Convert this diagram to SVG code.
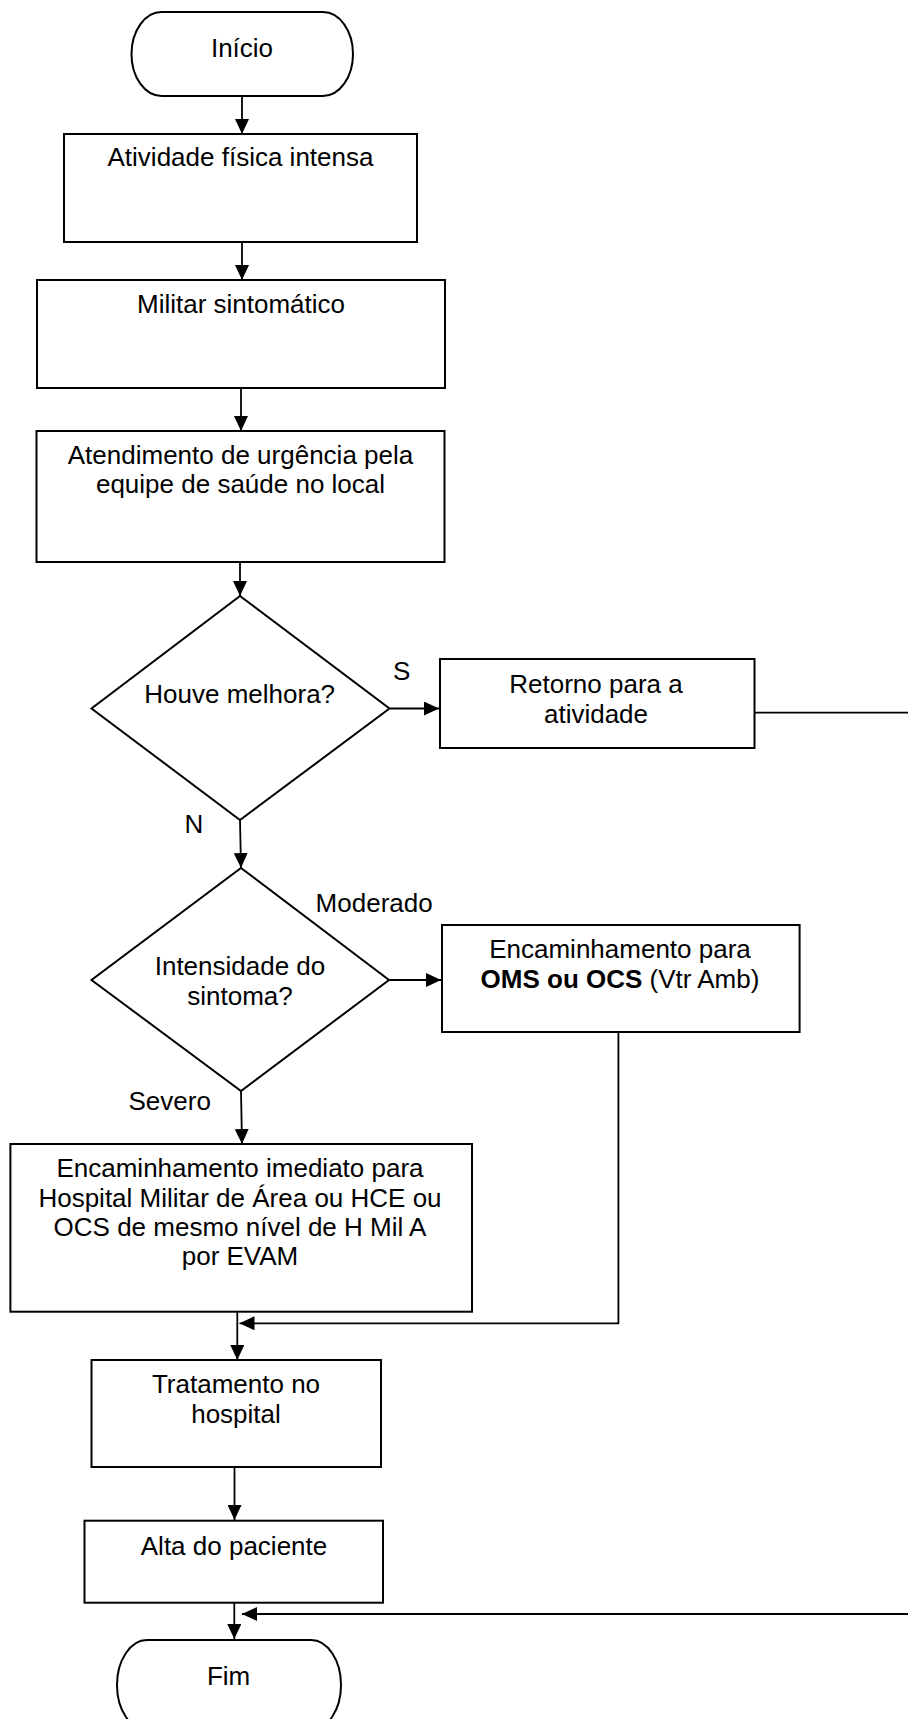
<svg xmlns="http://www.w3.org/2000/svg" width="908" height="1719" viewBox="0 0 908 1719">
<style>
.shape{fill:#fff;stroke:#000;stroke-width:2}
.conn{fill:none;stroke:#000;stroke-width:1.8}
text{font-family:"Liberation Sans",Arial,sans-serif;font-size:26px;fill:#000}
.c{text-anchor:middle}
</style>
<defs>
<marker id="arr" markerUnits="userSpaceOnUse" markerWidth="16" markerHeight="14" refX="15" refY="7" orient="auto">
<path d="M0,0 L15,7 L0,14 z" fill="#000"/>
</marker>
</defs>
<rect width="908" height="1719" fill="#fff"/>
<g id="connectors">
<line class="conn" x1="242" y1="96" x2="242" y2="134" marker-end="url(#arr)"/>
<line class="conn" x1="242" y1="242" x2="242" y2="280" marker-end="url(#arr)"/>
<line class="conn" x1="241" y1="388" x2="241" y2="431" marker-end="url(#arr)"/>
<line class="conn" x1="240" y1="562" x2="240" y2="596" marker-end="url(#arr)"/>
<line class="conn" x1="390" y1="708.5" x2="439" y2="708.5" marker-end="url(#arr)"/>
<path class="conn" d="M754.5,712.7 H912 V1614 H242" marker-end="url(#arr)"/>
<line class="conn" x1="240" y1="820" x2="241" y2="868" marker-end="url(#arr)"/>
<line class="conn" x1="389" y1="980" x2="441" y2="980" marker-end="url(#arr)"/>
<line class="conn" x1="241" y1="1091" x2="242" y2="1144" marker-end="url(#arr)"/>
<path class="conn" d="M618.4,1032 V1323.3 H239.5" marker-end="url(#arr)"/>
<line class="conn" x1="237.3" y1="1312" x2="237.3" y2="1360" marker-end="url(#arr)"/>
<line class="conn" x1="234.5" y1="1463" x2="234.5" y2="1520" marker-end="url(#arr)"/>
<line class="conn" x1="234.3" y1="1603" x2="234.3" y2="1639" marker-end="url(#arr)"/>
</g>
<g id="inicio">
<rect class="shape" x="131.5" y="12" width="221.5" height="84" rx="30" ry="42"/>
<text class="c" x="242" y="57">Início</text>
</g>
<g id="atividade">
<rect class="shape" x="64" y="134" width="353" height="108"/>
<text class="c" x="240.5" y="166">Atividade física intensa</text>
</g>
<g id="militar">
<rect class="shape" x="37" y="280" width="408" height="108"/>
<text class="c" x="241" y="313">Militar sintomático</text>
</g>
<g id="atendimento">
<rect class="shape" x="36.5" y="431" width="408" height="131"/>
<text class="c" x="240.5" y="464">Atendimento de urgência pela</text>
<text class="c" x="240.5" y="493">equipe de saúde no local</text>
</g>
<g id="melhora">
<polygon class="shape" points="240,596 389.5,708.5 240,820 91.5,708.5"/>
<text class="c" x="239.7" y="703">Houve melhora?</text>
</g>
<g id="retorno">
<rect class="shape" x="440" y="659" width="314.5" height="89"/>
<text class="c" x="596" y="693">Retorno para a</text>
<text class="c" x="596" y="723">atividade</text>
</g>
<g id="intensidade">
<polygon class="shape" points="241,868 389,980 241,1091 91.5,980"/>
<text class="c" x="240" y="975">Intensidade do</text>
<text class="c" x="240" y="1005">sintoma?</text>
</g>
<g id="oms">
<rect class="shape" x="442" y="925" width="357.6" height="107"/>
<text class="c" x="620" y="958">Encaminhamento para</text>
<text class="c" x="620" y="988"><tspan font-weight="bold">OMS ou OCS</tspan> (Vtr Amb)</text>
</g>
<g id="hospital-area">
<rect class="shape" x="10.4" y="1144" width="461.6" height="167.7"/>
<text class="c" x="240" y="1177">Encaminhamento imediato para</text>
<text class="c" x="240" y="1206.5">Hospital Militar de Área ou HCE ou</text>
<text class="c" x="240" y="1236">OCS de mesmo nível de H Mil A</text>
<text class="c" x="240" y="1265">por EVAM</text>
</g>
<g id="tratamento">
<rect class="shape" x="91.5" y="1360" width="289.5" height="107"/>
<text class="c" x="236" y="1393">Tratamento no</text>
<text class="c" x="236" y="1423">hospital</text>
</g>
<g id="alta">
<rect class="shape" x="84.5" y="1520.7" width="298.5" height="82"/>
<text class="c" x="234" y="1555">Alta do paciente</text>
</g>
<g id="fim">
<rect class="shape" x="117" y="1640" width="224" height="90" rx="30" ry="45"/>
<text class="c" x="228.6" y="1685">Fim</text>
</g>
<g id="labels">
<text x="393" y="680">S</text>
<text class="c" x="194" y="833">N</text>
<text x="315.6" y="912">Moderado</text>
<text x="128.5" y="1110">Severo</text>
</g>
</svg>
